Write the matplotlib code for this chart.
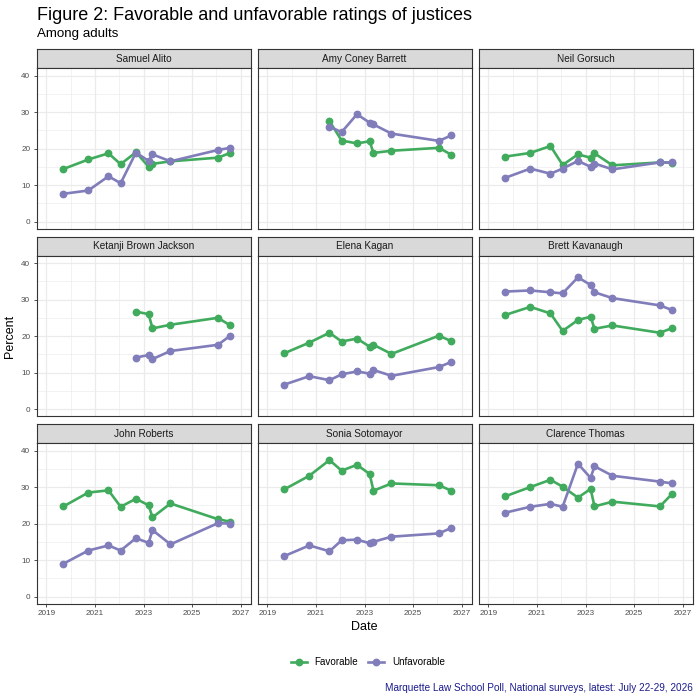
import matplotlib
matplotlib.use("Agg")
import matplotlib.pyplot as plt
from matplotlib.lines import Line2D
import numpy as np

plt.rcParams['font.family'] = ['Liberation Sans', 'DejaVu Sans']

# Survey dates (decimal years)
dates = [2019.71, 2020.73, 2021.56, 2022.06, 2022.69, 2023.21, 2023.37, 2024.11, 2026.06, 2026.57]

justices = ["Samuel Alito", "Amy Coney Barrett", "Neil Gorsuch",
            "Ketanji Brown Jackson", "Elena Kagan", "Brett Kavanaugh",
            "John Roberts", "Sonia Sotomayor", "Clarence Thomas"]

N = None
favorable = {
    "Samuel Alito":          [14.4, 17.0, 18.7, 15.7, 19.0, 15.0, 15.8, 16.5, 17.5, 18.8],
    "Amy Coney Barrett":     [N, N, 27.5, 22.2, 21.4, 22.0, 18.8, 19.4, 20.2, 18.3],
    "Neil Gorsuch":          [17.8, 18.8, 20.7, 15.5, 18.4, 17.5, 18.7, 15.4, 16.2, 16.1],
    "Ketanji Brown Jackson": [N, N, N, N, 26.7, 26.0, 22.1, 23.1, 25.0, 22.9],
    "Elena Kagan":           [15.3, 18.2, 20.9, 18.5, 19.3, 17.1, 17.6, 15.1, 20.1, 18.6],
    "Brett Kavanaugh":       [25.8, 28.0, 26.2, 21.4, 24.4, 25.3, 22.0, 22.9, 20.9, 22.2],
    "John Roberts":          [24.7, 28.5, 29.1, 24.6, 26.8, 25.0, 21.7, 25.5, 21.2, 20.5],
    "Sonia Sotomayor":       [29.4, 33.1, 37.4, 34.5, 36.1, 33.6, 29.0, 31.0, 30.5, 29.0],
    "Clarence Thomas":       [27.5, 30.0, 32.0, 30.1, 27.1, 29.5, 24.7, 26.0, 24.7, 28.2],
}
unfavorable = {
    "Samuel Alito":          [7.6, 8.5, 12.4, 10.5, 18.9, 16.6, 18.4, 16.5, 19.6, 20.2],
    "Amy Coney Barrett":     [N, N, 26.0, 24.5, 29.4, 27.1, 26.6, 24.1, 22.1, 23.6],
    "Neil Gorsuch":          [12.0, 14.5, 13.1, 14.5, 16.6, 15.0, 15.9, 14.3, 16.2, 16.2],
    "Ketanji Brown Jackson": [N, N, N, N, 14.1, 14.8, 13.7, 15.9, 17.6, 20.1],
    "Elena Kagan":           [6.7, 9.0, 7.9, 9.5, 10.3, 9.7, 10.7, 9.1, 11.5, 12.9],
    "Brett Kavanaugh":       [32.2, 32.5, 32.0, 31.7, 36.1, 34.0, 32.0, 30.4, 28.4, 27.1],
    "John Roberts":          [9.0, 12.6, 14.0, 12.6, 16.0, 14.7, 18.2, 14.3, 20.1, 20.0],
    "Sonia Sotomayor":       [11.1, 14.0, 12.4, 15.4, 15.6, 14.6, 15.0, 16.4, 17.3, 18.8],
    "Clarence Thomas":       [23.0, 24.6, 25.4, 24.6, 36.4, 32.5, 35.7, 33.1, 31.5, 31.0],
}

x_ticks = [2019, 2021, 2023, 2025, 2027]
y_ticks = [0, 10, 20, 30, 40]

GREEN = "#41AB5D"
PURPLE = "#807DBA"
W = H = 700.0

fig = plt.figure(figsize=(7, 7), dpi=100)

col_left = [36.5, 257.5, 478.5]
pw = 214.0
row_top = [49.3, 236.8, 424.3]
sh = 19.0
ph = 160.5

def frac(x, y, w, h):
    return [x / W, 1 - (y + h) / H, w / W, h / H]

for i, name in enumerate(justices):
    r, c = divmod(i, 3)
    x0 = col_left[c]
    y0 = row_top[r]
    # strip
    sax = fig.add_axes(frac(x0, y0, pw, sh))
    sax.set_facecolor("#D9D9D9")
    sax.set_xticks([]); sax.set_yticks([])
    for sp in sax.spines.values():
        sp.set_color("#333333"); sp.set_linewidth(0.8)
    sax.text(0.5, 0.5, name, ha="center", va="center", fontsize=7.2,
             color="#1A1A1A", transform=sax.transAxes)
    # panel
    ax = fig.add_axes(frac(x0, y0 + sh, pw, ph))
    ax.set_xlim(2018.6, 2027.4)
    ax.set_ylim(-2, 42)
    ax.set_xticks(x_ticks)
    ax.set_xticks([2020, 2022, 2024, 2026], minor=True)
    ax.set_yticks(y_ticks)
    ax.set_yticks([5, 15, 25, 35], minor=True)
    ax.grid(True, which="major", color="#EBEBEB", linewidth=0.9)
    ax.grid(True, which="minor", color="#EBEBEB", linewidth=0.45)
    ax.set_axisbelow(True)
    for sp in ax.spines.values():
        sp.set_color("#333333"); sp.set_linewidth(0.8)
    ax.tick_params(which="minor", length=0)
    ax.tick_params(which="major", length=2.5, width=0.6, color="#333333",
                   labelsize=5.9, labelcolor="#4D4D4D", pad=2)
    if c != 0:
        ax.tick_params(axis="y", which="major", left=False, labelleft=False)
    if r != 2:
        ax.tick_params(axis="x", which="major", bottom=False, labelbottom=False)
    ax.set_xticklabels([str(t) for t in x_ticks] if r == 2 else [])

    for vals, col in ((favorable[name], GREEN), (unfavorable[name], PURPLE)):
        xs = [d for d, v in zip(dates, vals) if v is not None]
        ys = [v for v in vals if v is not None]
        ax.plot(xs, ys, color=col, linewidth=1.9, marker="o", markersize=4.6,
                solid_joinstyle="round", zorder=3)

fig.text(37 / W, 1 - 20 / H, "Figure 2: Favorable and unfavorable ratings of justices",
         fontsize=13.0, ha="left", va="baseline", color="black")
fig.text(37 / W, 1 - 36.5 / H, "Among adults", fontsize=9.6, ha="left", va="baseline",
         color="black")
fig.text(10.5 / W, 1 - 336 / H, "Percent", rotation=90, fontsize=9, ha="center",
         va="center")
fig.text(364.7 / W, 1 - 627 / H, "Date", fontsize=9, ha="center", va="center")

handles = [Line2D([], [], color=GREEN, linewidth=1.9, marker="o", markersize=4.6),
           Line2D([], [], color=PURPLE, linewidth=1.9, marker="o", markersize=4.6)]
fig.legend(handles, ["Favorable", "Unfavorable"], loc="center",
           bbox_to_anchor=(368 / W, 1 - 662 / H), ncol=2, frameon=False,
           fontsize=7.1, handlelength=1.6, handletextpad=0.8, columnspacing=1.0)

fig.text(692.7 / W, 1 - 688 / H,
         "Marquette Law School Poll, National surveys, latest: July 22-29, 2026",
         fontsize=7.2, ha="right", va="center", color="#1A1A8C")

fig.savefig("out.png", dpi=100)
